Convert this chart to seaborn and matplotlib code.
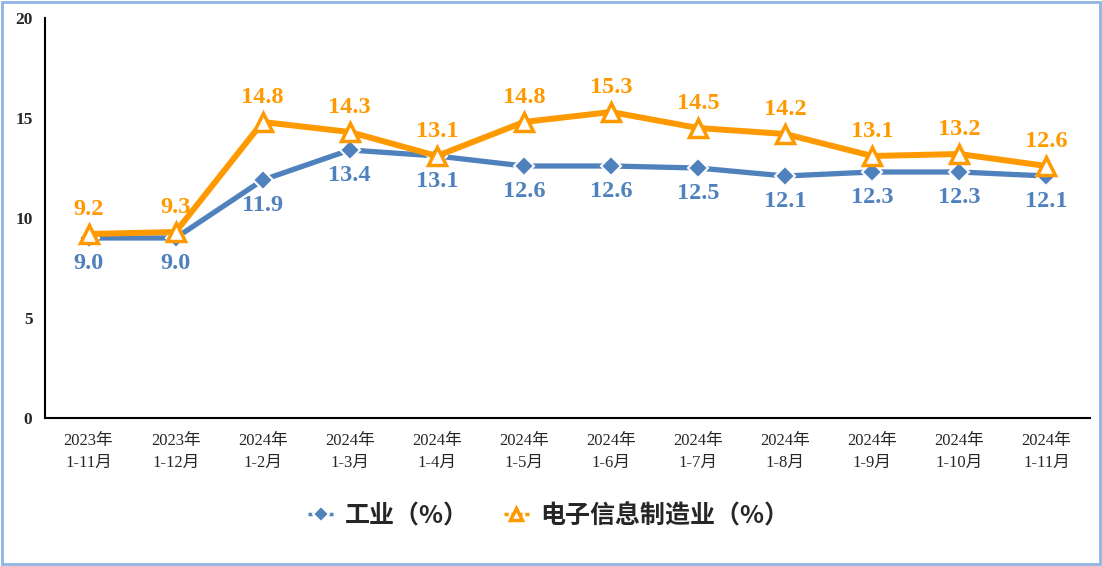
import matplotlib
matplotlib.use("Agg")
import matplotlib.pyplot as plt
import seaborn as sns
import pandas as pd
import numpy as np
from matplotlib.patches import Rectangle

categories = ["2023年\n1-11月", "2023年\n1-12月", "2024年\n1-2月", "2024年\n1-3月",
              "2024年\n1-4月", "2024年\n1-5月", "2024年\n1-6月", "2024年\n1-7月",
              "2024年\n1-8月", "2024年\n1-9月", "2024年\n1-10月", "2024年\n1-11月"]
industry = [9.0, 9.0, 11.9, 13.4, 13.1, 12.6, 12.6, 12.5, 12.1, 12.3, 12.3, 12.1]
electronic = [9.2, 9.3, 14.8, 14.3, 13.1, 14.8, 15.3, 14.5, 14.2, 13.1, 13.2, 12.6]
series_names = ["工业（%）", "电子信息制造业（%）"]
y_ticks = [0, 5, 10, 15, 20]

sns.set_theme(style="white")
plt.rcParams['font.family'] = ['Liberation Serif', 'Noto Sans CJK SC', 'DejaVu Sans']

BLUE = "#4F81BD"
ORANGE = "#FF9900"

fig = plt.figure(figsize=(11.02, 5.66), dpi=100)
ax = fig.add_axes([45/1102, 148/566, (1090-45)/1102, (418-18)/566])

x = np.arange(len(categories))
df1 = pd.DataFrame({"x": x, "y": industry})
df2 = pd.DataFrame({"x": x, "y": electronic})

sns.lineplot(data=df1, x="x", y="y", ax=ax, color=BLUE, linewidth=3.8,
             marker="D", markersize=10, markerfacecolor=BLUE, markeredgecolor="white",
             markeredgewidth=1.5, label=series_names[0], zorder=3)
sns.lineplot(data=df2, x="x", y="y", ax=ax, color=ORANGE, linewidth=4.3,
             marker="^", markersize=13, markerfacecolor="white", markeredgecolor=ORANGE,
             markeredgewidth=2.5, label=series_names[1], zorder=4)

for xi, v in zip(x, industry):
    ax.annotate(f"{v:.1f}", (xi, v), xytext=(0, -11), textcoords="offset points",
                ha="center", va="top", color=BLUE, fontsize=17.5, fontweight="bold",
                family=['Liberation Serif'])
for xi, v in zip(x, electronic):
    ax.annotate(f"{v:.1f}", (xi, v), xytext=(0, 10), textcoords="offset points",
                ha="center", va="bottom", color=ORANGE, fontsize=17.5, fontweight="bold",
                family=['Liberation Serif'])

ax.set_xlim(-0.5, len(categories) - 0.5)
ax.set_ylim(0, 20)
ax.set_yticks(y_ticks)
ax.set_yticklabels([str(t) for t in y_ticks], fontsize=12.5, fontweight="bold",
                   family=['Liberation Serif'])
ax.set_xticks(x)
ax.set_xticklabels(categories, fontsize=12, family=['Liberation Serif', 'Noto Sans CJK SC'],
                   linespacing=1.45)
ax.tick_params(axis="x", length=0, pad=11)
ax.tick_params(axis="y", length=0, pad=9)
ax.set_xlabel("")
ax.set_ylabel("")
ax.grid(False)
for s in ["top", "right"]:
    ax.spines[s].set_visible(False)
for s in ["left", "bottom"]:
    ax.spines[s].set_color("black")
    ax.spines[s].set_linewidth(1.5)

leg = ax.legend(loc="center", bbox_to_anchor=(0.482, -0.245), ncol=2, frameon=False,
                prop={'family': ['Noto Sans CJK SC'], 'weight': 'bold', 'size': 18},
                handlelength=1.0, columnspacing=1.4, handletextpad=0.45,
                bbox_transform=ax.transAxes)
for h in leg.legend_handles:
    h.set_linewidth(2.5)
    h.set_linestyle((0, (1.2, 0.8)))
    h.set_markersize(8)

fig.patches.append(Rectangle((0.002, 0.003), 0.996, 0.994, transform=fig.transFigure,
                             fill=False, edgecolor="#8EB4E3", linewidth=2))

fig.savefig("out.png", dpi=100)
